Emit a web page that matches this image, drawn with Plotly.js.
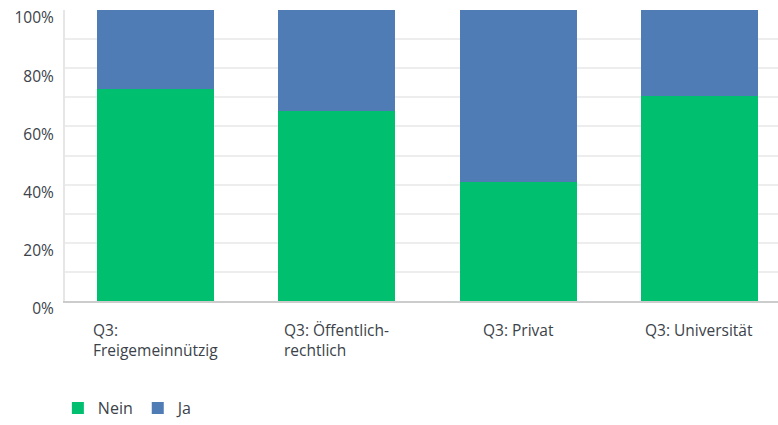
<!DOCTYPE html>
<html>
<head>
<meta charset="utf-8">
<script src="https://cdn.plot.ly/plotly-3.0.1.min.js"></script>
<style>
  body { margin: 0; background: #fff; }
  #chart { width: 778px; height: 425px; }
</style>
</head>
<body>
<div id="chart"></div>
<script>
// categories and the two answer shares (fraction of respondents)
const categories = ['Q3: Freigemeinnützig', 'Q3: Öffentlich-rechtlich', 'Q3: Privat', 'Q3: Universität'];
const categoryLabels = ['Q3:<br>Freigemeinnützig', 'Q3: Öffentlich-<br>rechtlich', 'Q3: Privat', 'Q3: Universität'];
const neinValues = [0.727, 0.652, 0.408, 0.703];
const jaValues = [0.273, 0.348, 0.592, 0.297];

const textColor = '#3b4249';
const font = '"Open Sans", Roboto, sans-serif';

const traces = [
    {
        type: 'bar',
        name: 'Nein',
        x: categories,
        y: neinValues,
        marker: { color: '#00bf6f' },
        width: 0.645,
        hoverinfo: 'name+y'
    },
    {
        type: 'bar',
        name: 'Ja',
        x: categories,
        y: jaValues,
        marker: { color: '#507cb6' },
        width: 0.645,
        hoverinfo: 'name+y'
    }
];

// category labels drawn as annotations so lines stay left aligned
const labelAnnotations = categories.map((c, i) => ({
    x: c,
    xref: 'x',
    y: 0,
    yref: 'paper',
    yshift: -16,
    yanchor: 'top',
    xanchor: 'center',
    align: 'left',
    showarrow: false,
    text: categoryLabels[i],
    font: { family: font, size: 15.5, color: textColor }
}));

const layout = {
    width: 778,
    height: 425,
    barmode: 'stack',
    margin: { l: 65, r: 0, t: 10, b: 123 },
    paper_bgcolor: '#fff',
    plot_bgcolor: '#fff',
    font: { family: font, size: 15, color: textColor },
    showlegend: true,
    legend: {
        orientation: 'h',
        x: -0.01,
        xanchor: 'left',
        y: -0.37,
        yanchor: 'middle',
        font: { family: font, size: 16, color: textColor },
        itemwidth: 30,
        traceorder: 'normal'
    },
    xaxis: {
        type: 'category',
        range: [-0.5, 3.434],
        showticklabels: false,
        showgrid: false,
        showline: true,
        linecolor: '#cccccc',
        linewidth: 2,
        ticks: '',
        zeroline: false,
        fixedrange: true
    },
    yaxis: {
        range: [0, 1],
        dtick: 0.2,
        tickformat: '.0%',
        showgrid: true,
        gridcolor: '#ededed',
        gridwidth: 2,
        minor: { dtick: 0.1, showgrid: true, gridcolor: '#ededed', gridwidth: 2 },
        showline: true,
        linecolor: '#e6e6e6',
        linewidth: 2,
        zeroline: false,
        ticks: '',
        ticklabelstandoff: 6,
        ticklabelshift: 8,
        tickfont: { family: font, size: 15.5, color: textColor },
        fixedrange: true
    },
    annotations: labelAnnotations
};

Plotly.newPlot('chart', traces, layout, { displayModeBar: false, staticPlot: true });
</script>
</body>
</html>
